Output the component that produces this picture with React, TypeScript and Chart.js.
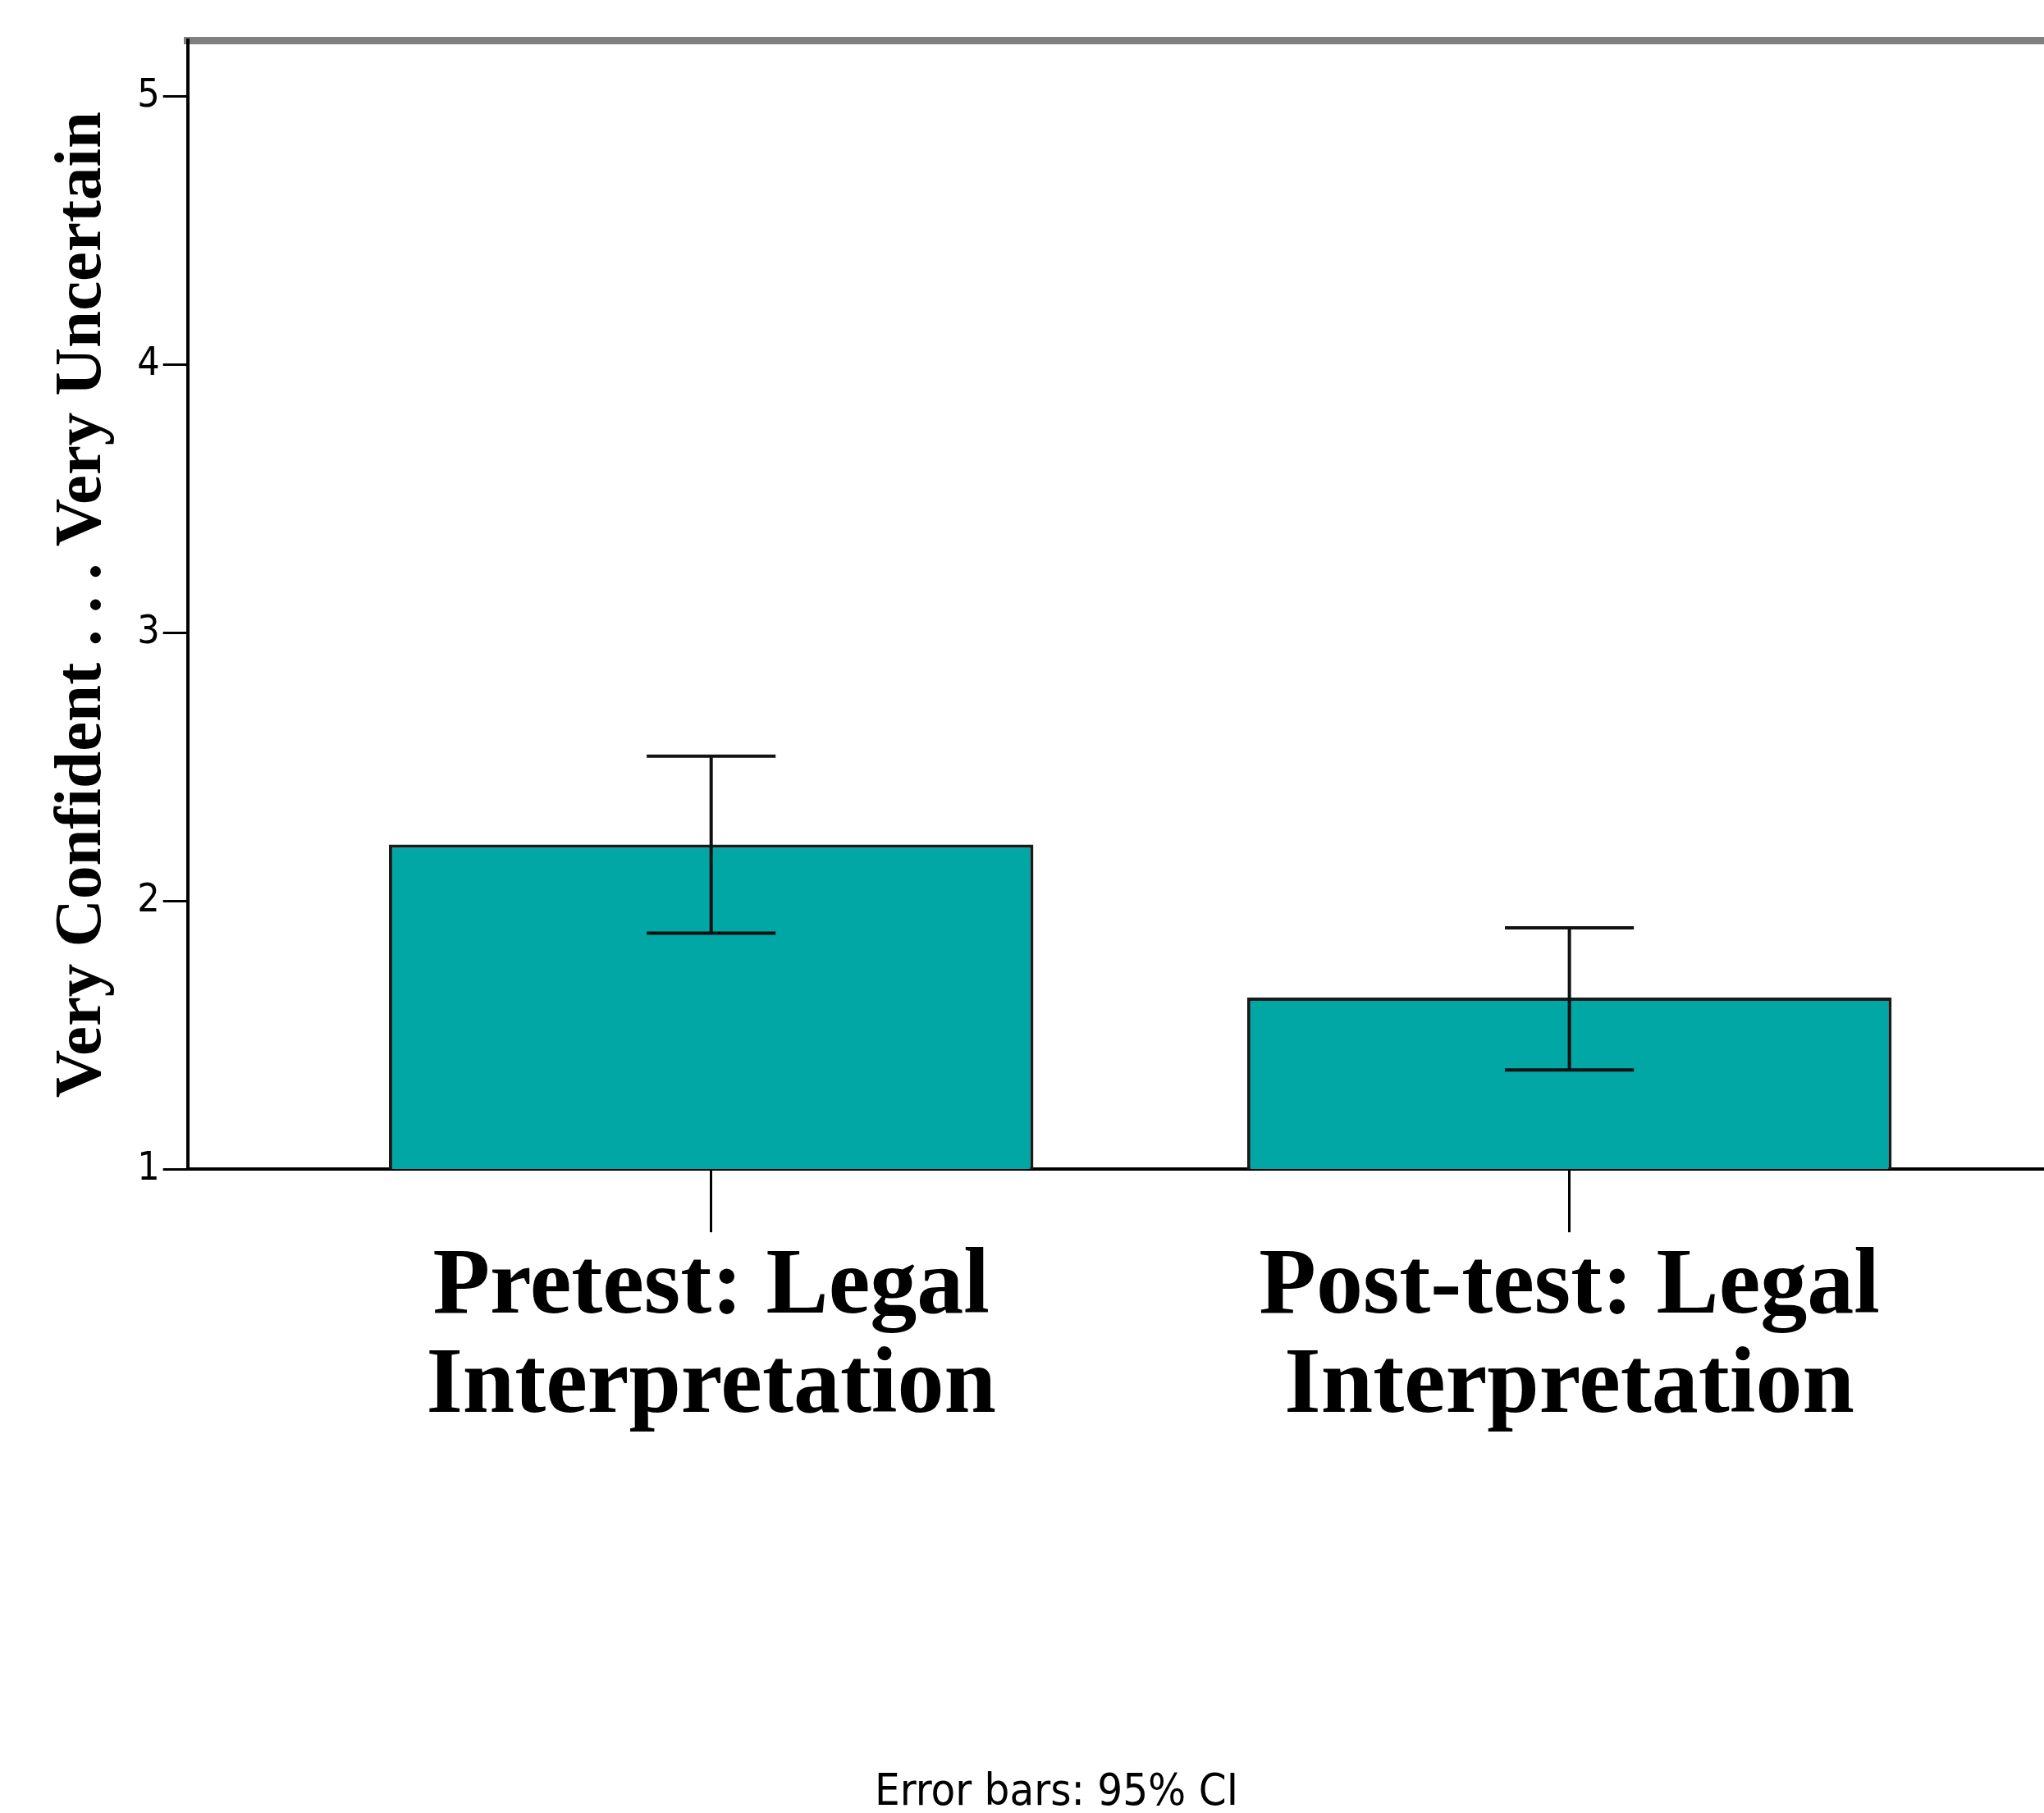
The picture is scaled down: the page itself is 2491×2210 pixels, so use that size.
import React, { useEffect, useRef } from "react";
import { Chart, registerables } from "chart.js";

Chart.register(...registerables);

// ---- data ----
const categories: string[][] = [
  ["Pretest: Legal", "Interpretation"],
  ["Post-test: Legal", "Interpretation"],
];
const categoryPositions: number[] = [0, 1];
const meanValues: number[] = [2.21, 1.64];
const ciLower: number[] = [1.88, 1.37];
const ciUpper: number[] = [2.54, 1.9];
const yTickValues: number[] = [1, 2, 3, 4, 5];
const yAxisMin = 1;
const yAxisMax = 5.21;
const xAxisMin = -0.61;
const xAxisMax = 1.553;
const yAxisTitle = "Very Confident . . . Very Uncertain";
const footnote = "Error bars: 95% CI";

// ---- styles ----
const CANVAS_W = 2491;
const CANVAS_H = 2210;
const BAR_FILL = "#00a7a5";
const BAR_EDGE = "#1a1a1a";
const CAP_FRACTION = 0.2;
const NARROW = "'Liberation Sans Narrow', 'Arial Narrow', 'DejaVu Sans Condensed', 'Liberation Sans', sans-serif";
const SERIF = "'Liberation Serif', 'Times New Roman', serif";

const errorBarPlugin = {
  id: "errorBars",
  afterDatasetsDraw(chart: any) {
    const meta = chart.getDatasetMeta(0);
    const y = chart.scales.y;
    const ctx = chart.ctx;
    ctx.save();
    ctx.strokeStyle = "#111111";
    ctx.lineWidth = 4;
    ctx.lineCap = "butt";
    meta.data.forEach((bar: any, i: number) => {
      const x = bar.x;
      const half = (bar.width * CAP_FRACTION) / 2;
      const yHi = y.getPixelForValue(ciUpper[i]);
      const yLo = y.getPixelForValue(ciLower[i]);
      ctx.beginPath();
      ctx.moveTo(x, yHi);
      ctx.lineTo(x, yLo);
      ctx.moveTo(x - half, yHi);
      ctx.lineTo(x + half, yHi);
      ctx.moveTo(x - half, yLo);
      ctx.lineTo(x + half, yLo);
      ctx.stroke();
    });
    ctx.restore();
  },
};

export default function App() {
  const ref = useRef<HTMLCanvasElement | null>(null);

  useEffect(() => {
    if (!ref.current) return;
    const chart = new Chart(ref.current, {
      type: "bar",
      data: {
        datasets: [
          {
            data: categoryPositions.map((x, i) => ({ x, y: meanValues[i] })),
            backgroundColor: BAR_FILL,
            borderColor: BAR_EDGE,
            borderWidth: 4,
            borderSkipped: "start",
            categoryPercentage: 1,
            barPercentage: 0.751,
          } as any,
        ],
      },
      options: {
        responsive: false,
        animation: false,
        devicePixelRatio: 1,
        layout: { padding: { top: 49, left: 84, right: 0, bottom: 0 } },
        plugins: {
          legend: { display: false },
          tooltip: { enabled: false },
          title: {
            display: true,
            text: footnote,
            position: "bottom",
            align: "center",
            color: "#000",
            font: { family: NARROW, size: 54, weight: "normal", lineHeight: 0.8 },
            padding: { top: 405, bottom: 2 },
          },
        },
        scales: {
          x: {
            type: "linear",
            position: "bottom",
            offset: false,
            min: xAxisMin,
            max: xAxisMax,
            z: 1,
            afterBuildTicks: (scale: any) => {
              scale.ticks = categoryPositions.map((v) => ({ value: v }));
            },
            grid: {
              display: true,
              offset: false,
              drawOnChartArea: false,
              drawTicks: true,
              tickLength: 77,
              tickColor: "#000",
              tickWidth: 3,
            },
            border: { display: true, color: "#000", width: 4 },
            ticks: {
              padding: 8,
              color: "#000",
              maxRotation: 0,
              autoSkip: false,
              font: { family: SERIF, size: 114, weight: "bold", lineHeight: 1.06 },
              callback: (v: any) => {
                const idx = categoryPositions.indexOf(Number(v));
                return idx >= 0 ? categories[idx] : "";
              },
            },
          },
          x2: {
            type: "linear",
            position: "top",
            offset: false,
            min: xAxisMin,
            max: xAxisMax,
            grid: { display: false, drawTicks: false },
            ticks: { display: false },
            border: { display: true, color: "#808080", width: 9 },
          },
          y: {
            type: "linear",
            min: yAxisMin,
            max: yAxisMax,
            afterBuildTicks: (scale: any) => {
              scale.ticks = yTickValues.map((v) => ({ value: v }));
            },
            grid: {
              drawOnChartArea: false,
              drawTicks: true,
              tickLength: 30,
              tickColor: "#000",
              tickWidth: 3,
            },
            border: { display: true, color: "#000", width: 4 },
            ticks: {
              padding: 4,
              color: "#000",
              font: { family: NARROW, size: 48 },
              callback: (v: any) => String(v),
            },
            title: {
              display: true,
              text: yAxisTitle,
              color: "#000",
              font: { family: SERIF, size: 81, weight: "bold", lineHeight: 1.2 },
              padding: { top: -32, bottom: 14 },
            },
          },
        },
      } as any,
      plugins: [errorBarPlugin],
    });
    return () => chart.destroy();
  }, []);

  return (
    <div
      style={{
        position: "fixed",
        left: 0,
        top: 0,
        width: CANVAS_W,
        height: CANVAS_H,
        background: "#fff",
        overflow: "hidden",
      }}
    >
      <canvas
        ref={ref}
        width={CANVAS_W}
        height={CANVAS_H}
        style={{ display: "block", width: CANVAS_W, height: CANVAS_H }}
      />
    </div>
  );
}
